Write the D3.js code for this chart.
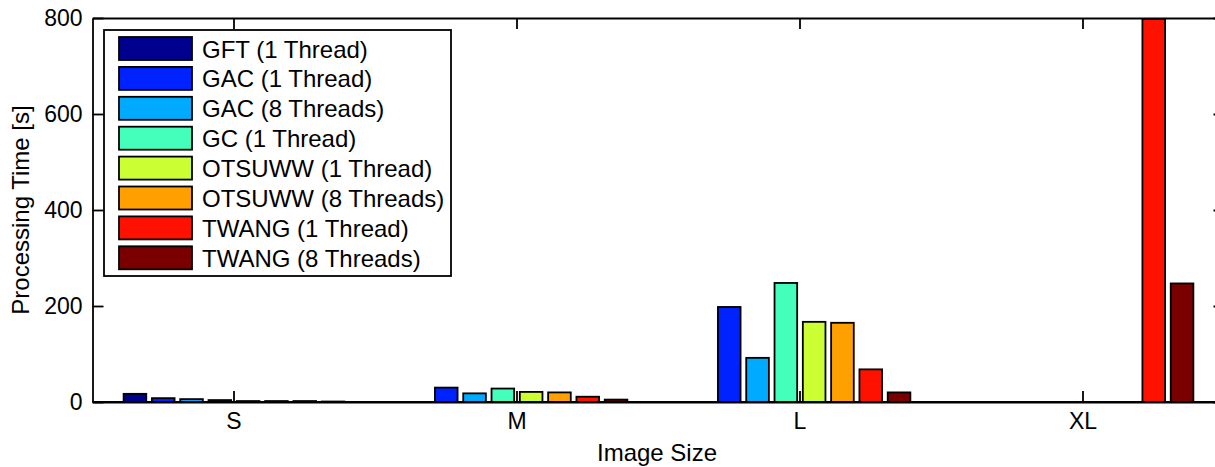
<!DOCTYPE html>
<html lang="en">
<head>
    <meta charset="UTF-8">
    <title>Processing Time by Image Size</title>
    <script src="https://d3js.org/d3.v7.min.js"></script>
    <style>
        body { margin: 0; background: #fff; }
        svg text { font-family: "Liberation Sans", Arial, Helvetica, sans-serif; fill: #000; }
        .axis text { font-size: 23px; }
        .axis line, .axis path { stroke: #000; stroke-width: 1.8px; }
        .bar { stroke: #000; stroke-width: 1.8px; }
    </style>
</head>
<body>
    <svg id="chart"></svg>

    <script>
        // image size categories
        var sizes = ["S", "M", "L", "XL"];

        // algorithms (series) and their colours
        var series = [
            "GFT (1 Thread)", "GAC (1 Thread)", "GAC (8 Threads)", "GC (1 Thread)",
            "OTSUWW (1 Thread)", "OTSUWW (8 Threads)", "TWANG (1 Thread)", "TWANG (8 Threads)"
        ];
        var colors = ["#00008f", "#0022ff", "#00aaff", "#44ffbb", "#ccff33", "#ffa000", "#ff1100", "#7a0000"];

        // processing time [s], one array per size, in series order
        var timeS  = [17, 8, 6, 4, 2, 2, 2, 1];
        var timeM  = [0, 30, 18, 28, 21, 20, 11, 5];
        var timeL  = [0, 198, 92, 248, 167, 165, 68, 20];
        var timeXL = [0, 0, 0, 0, 0, 0, 798, 247];

        var yTicks = [0, 200, 400, 600, 800];

        var values = [timeS, timeM, timeL, timeXL];

        var width = 1215, height = 467;
        var plotLeft = 92.5, plotRight = 1224.5, plotTop = 18, plotBottom = 402;
        var tick = 11;

        var svg = d3.select("#chart")
                    .attr("width", width)
                    .attr("height", height);

        var x0 = d3.scaleBand()
                   .domain(sizes)
                   .range([plotLeft, plotRight])
                   .paddingInner(0.2)
                   .paddingOuter(0.1);

        var x1 = d3.scaleBand()
                   .domain(d3.range(series.length))
                   .range([0, x0.bandwidth()])
                   .paddingInner(0.2)
                   .paddingOuter(0.1);

        var y = d3.scaleLinear()
                  .domain([0, 800])
                  .range([plotBottom, plotTop]);

        // ticks first, bars on top
        svg.append("g")
           .attr("class", "axis")
           .attr("transform", "translate(0," + plotBottom + ")")
           .call(d3.axisBottom(x0).tickSizeInner(-tick).tickSizeOuter(0).tickPadding(11));

        svg.append("g")
           .attr("class", "axis")
           .attr("transform", "translate(0," + plotTop + ")")
           .call(d3.axisTop(x0).tickSizeInner(-tick).tickSizeOuter(0).tickFormat(""));

        svg.append("g")
           .attr("class", "axis")
           .attr("transform", "translate(" + plotLeft + ",0)")
           .call(d3.axisLeft(y).tickValues(yTicks).tickSizeInner(-tick).tickSizeOuter(0).tickPadding(10));

        svg.append("g")
           .attr("class", "axis")
           .attr("transform", "translate(" + plotRight + ",0)")
           .call(d3.axisRight(y).tickValues(yTicks).tickSizeInner(-tick).tickSizeOuter(0).tickFormat(""));

        // bars
        var groups = svg.append("g").selectAll("g")
           .data(sizes)
           .enter().append("g")
           .attr("transform", function(d) { return "translate(" + x0(d) + ",0)"; });

        groups.selectAll("rect")
           .data(function(d, i) {
               return values[i].map(function(v, j) { return { s: j, v: v }; })
                               .filter(function(e) { return e.v > 0; });
           })
           .enter().append("rect")
           .attr("class", "bar")
           .attr("x", function(d) { return x1(d.s); })
           .attr("width", x1.bandwidth())
           .attr("y", function(d) { return y(d.v); })
           .attr("height", function(d) { return plotBottom - y(d.v); })
           .attr("fill", function(d) { return colors[d.s]; });

        // redraw baseline over the bar edges
        svg.append("line")
           .attr("x1", plotLeft).attr("x2", plotRight)
           .attr("y1", plotBottom).attr("y2", plotBottom)
           .attr("stroke", "#000").attr("stroke-width", 1.8);

        // axis labels
        svg.append("text")
           .attr("x", 657)
           .attr("y", 461)
           .attr("text-anchor", "middle")
           .style("font-size", "24px")
           .text("Image Size");

        svg.append("text")
           .attr("transform", "translate(29," + (plotTop + plotBottom) / 2 + ") rotate(-90)")
           .attr("text-anchor", "middle")
           .style("font-size", "24px")
           .text("Processing Time [s]");

        // legend
        var legend = svg.append("g");
        legend.append("rect")
              .attr("x", 104).attr("y", 30)
              .attr("width", 347).attr("height", 246)
              .attr("fill", "#fff")
              .attr("stroke", "#000")
              .attr("stroke-width", 1.8);

        var rows = legend.selectAll(".row")
              .data(series)
              .enter().append("g")
              .attr("class", "row")
              .attr("transform", function(d, i) { return "translate(0," + (37 + i * 29.9) + ")"; });

        rows.append("rect")
            .attr("class", "bar")
            .attr("x", 119).attr("y", 0)
            .attr("width", 73).attr("height", 23)
            .attr("fill", function(d, i) { return colors[i]; });

        rows.append("text")
            .attr("x", 202).attr("y", 20.5)
            .style("font-size", "24px")
            .text(function(d) { return d; });
    </script>
</body>
</html>
